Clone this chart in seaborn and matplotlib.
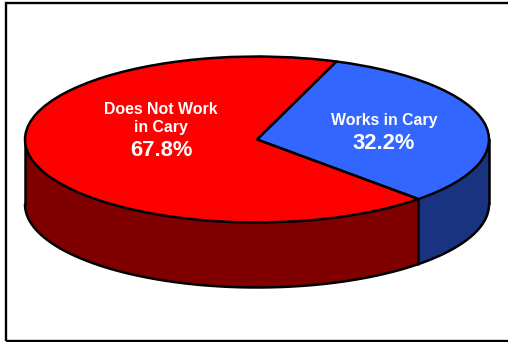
import numpy as np
import matplotlib
matplotlib.use("Agg")
import matplotlib.pyplot as plt
from matplotlib.patches import Rectangle
import seaborn as sns

categories = ["Works in Cary", "Does Not Work\nin Cary"]
shares = [32.2, 67.8]

sns.set_theme(style="white")
plt.rcParams["font.family"] = ["Liberation Sans", "DejaVu Sans"]

top_colors = sns.color_palette(["#3366FF", "#FF0000"])
side_colors = sns.color_palette(["#1A3380", "#800000"])

W, H = 508, 342
CX, CY, RX, RY, DEPTH = 257, 139.5, 232, 83, 65
START = -45.9
LW = 1.8

fig = plt.figure(figsize=(W / 100, H / 100), dpi=100, facecolor="white")
ax = fig.add_axes([0, 0, 1, 1])

ax.pie(shares, colors=top_colors, startangle=START, radius=1, center=(0, 0),
       wedgeprops=dict(edgecolor="black", linewidth=LW, zorder=5, joinstyle="round"))
ax.set_aspect("auto")
ax.set_xlim(-CX / RX, (W - CX) / RX)
ax.set_ylim(-(H - CY) / RY, CY / RY)
ax.axis("off")

# Side wall, following the slice angles derived from the shares
d = DEPTH / RY
spans = [(0, START, side_colors[0]), (START, -180, side_colors[1])]
for a0, a1, col in spans:
    th = np.radians(np.linspace(a0, a1, 200))
    x, y = np.cos(th), np.sin(th)
    ax.fill_between(x, y, y - d, color=col, linewidth=0, zorder=1)
    ax.plot(x, y - d, color="black", lw=LW, zorder=3, solid_capstyle="round")
for a in (0, START, -180):
    t = np.radians(a)
    ax.plot([np.cos(t)] * 2, [np.sin(t), np.sin(t) - d], color="black", lw=LW, zorder=3)


def px(x, y):
    return (x - CX) / RX, (CY - y) / RY


label_style = dict(color="white", fontweight="bold", ha="center", va="center", zorder=10)
ax.text(*px(161, 118.5), categories[1], fontsize=11.4, linespacing=1.28, **label_style)
ax.text(*px(161, 150.5), f"{shares[1]:.1f}%", fontsize=15.8, **label_style)
ax.text(*px(384, 120.5), categories[0], fontsize=11.4, **label_style)
ax.text(*px(384, 143.5), f"{shares[0]:.1f}%", fontsize=15.8, **label_style)

fig.add_artist(Rectangle((6 / W, 1 - 341 / H), (W + 10) / W, 338.5 / H,
                         transform=fig.transFigure, fill=False,
                         edgecolor="black", linewidth=1.7))

fig.savefig("out.png", dpi=100)
